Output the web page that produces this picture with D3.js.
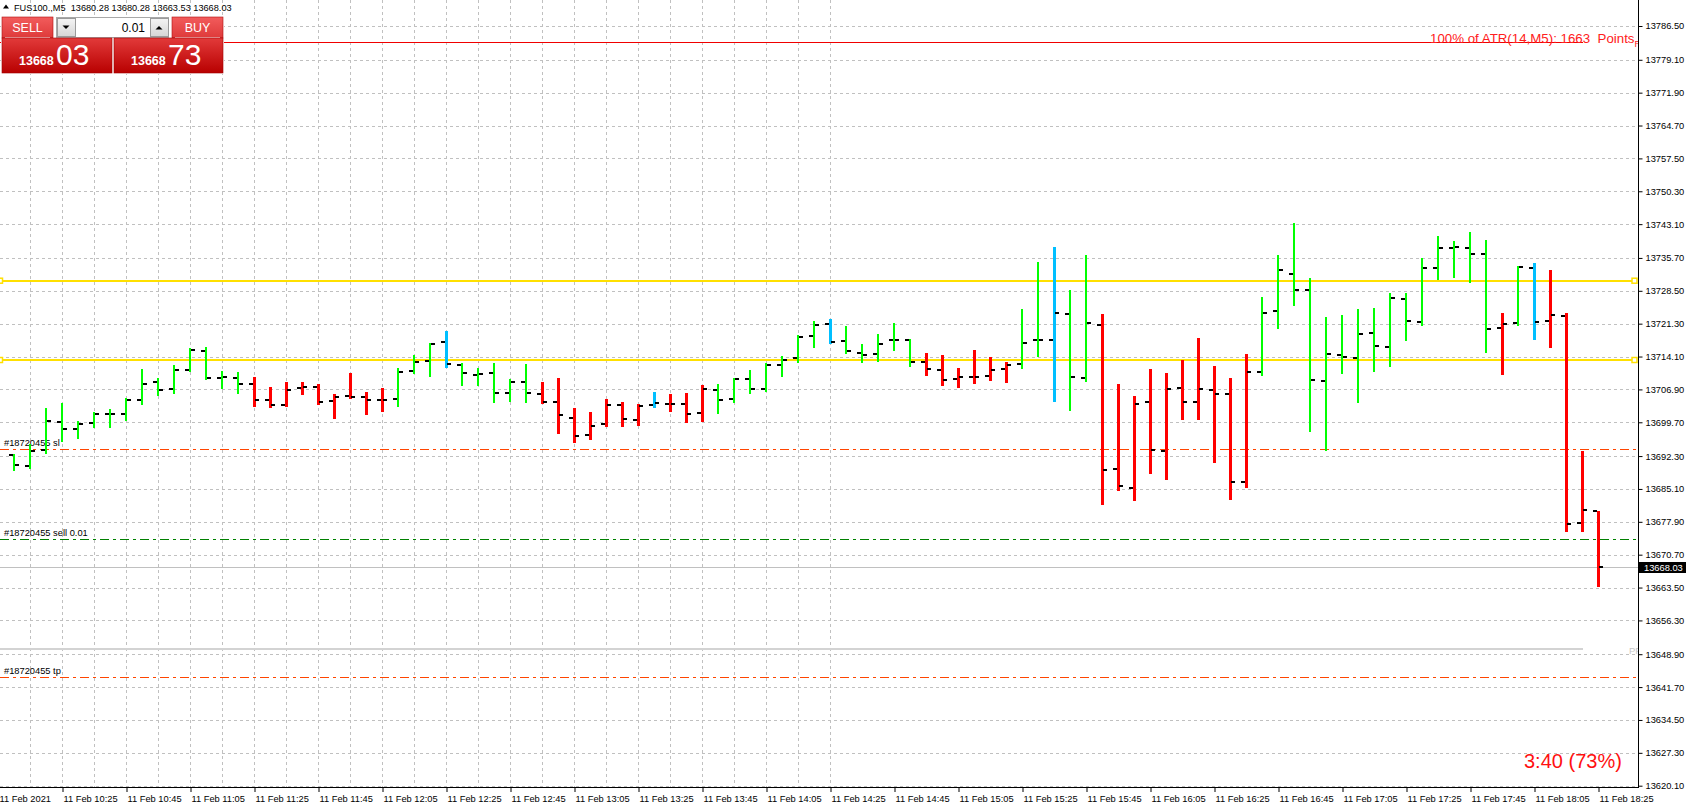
<!DOCTYPE html>
<html>
<head>
<meta charset="utf-8">
<script src="https://cdn.jsdelivr.net/npm/d3@7"></script>
<style>
  body { margin: 0; background: #fff; }
  text { font-family: "Liberation Sans", Arial, sans-serif; }
</style>
</head>
<body>
<svg id="chart" width="1691" height="805"></svg>
<script>
// FUS100.,M5  11 Feb 2021, bars from 10:10 to 18:25
var barOpen = [13692.63,13690.22,13693.65,13699.85,13698.32,13699.64,13701.53,13701.53,13704.53,13708.47,
  13707.01,13711.17,13715.40,13709.42,13709.49,13708.18,13704.53,13703.50,13707.23,13707.52,
  13704.38,13705.48,13705.33,13704.67,13704.89,13710.88,13713.22,13717.38,13712.27,13710.16,
  13710.60,13706.14,13708.62,13706.00,13704.17,13700.67,13697.02,13699.43,13703.59,13700.30,
  13703.59,13703.81,13703.81,13701.84,13706.87,13704.90,13709.28,13707.09,13712.35,13713.88,
  13718.70,13721.24,13717.52,13714.89,13714.67,13717.74,13717.74,13712.92,13711.17,13709.20,
  13709.64,13709.86,13711.39,13712.48,13717.74,13717.74,13723.43,13709.42,13721.02,13689.49,
  13685.33,13704.16,13693.43,13707.23,13704.16,13706.79,13705.91,13686.64,13710.73,13724.16,
  13732.27,13728.69,13708.76,13714.45,13713.80,13719.27,13716.21,13726.72,13721.68,13733.51,
  13737.89,13737.89,13736.65,13720.37,13721.46,13733.51,13721.90,13723.00,13677.66,13680.28];
var barHigh = [13692.77,13694.96,13702.92,13703.87,13700.00,13701.90,13702.63,13705.04,13711.39,13709.42,
  13712.26,13715.99,13716.21,13710.95,13710.73,13709.64,13707.45,13708.61,13708.61,13708.18,
  13705.91,13710.51,13706.35,13707.23,13711.61,13714.45,13717.09,13719.72,13712.71,13711.62,
  13712.71,13709.21,13712.49,13708.55,13709.43,13702.86,13701.98,13704.83,13704.17,13703.73,
  13706.36,13705.92,13706.14,13707.89,13708.11,13709.43,13711.18,13712.71,13714.25,13718.84,
  13721.91,13722.34,13720.81,13716.86,13719.05,13721.46,13717.96,13714.89,13714.45,13711.61,
  13715.55,13714.02,13712.92,13724.53,13734.82,13738.11,13728.69,13736.35,13723.43,13708.10,
  13705.48,13711.39,13710.51,13713.36,13718.18,13712.05,13709.42,13714.67,13727.16,13736.35,
  13743.36,13731.32,13722.78,13723.21,13724.53,13724.75,13728.03,13728.03,13735.77,13740.52,
  13739.42,13741.39,13739.64,13723.65,13733.95,13734.60,13733.07,13723.65,13693.43,13680.28];
var barLow = [13689.12,13689.42,13692.77,13695.47,13695.99,13698.54,13698.54,13700.07,13703.50,13705.48,
  13705.99,13710.80,13709.05,13706.94,13705.99,13703.07,13702.92,13703.14,13705.77,13703.58,
  13700.51,13704.89,13701.31,13702.04,13703.07,13710.37,13709.65,13711.69,13707.68,13707.68,
  13703.95,13704.17,13703.95,13703.73,13697.16,13695.19,13695.85,13698.70,13698.70,13698.92,
  13702.93,13701.98,13699.57,13699.79,13701.54,13703.95,13705.92,13706.36,13709.65,13712.71,
  13716.00,13716.94,13714.67,13712.70,13712.92,13715.33,13711.83,13709.86,13707.67,13707.23,
  13708.10,13708.76,13708.32,13711.39,13714.02,13704.16,13702.19,13708.54,13681.60,13684.67,
  13682.48,13688.39,13687.08,13700.22,13700.22,13690.80,13682.70,13685.40,13709.93,13720.15,
  13725.19,13697.59,13693.43,13710.29,13703.94,13710.73,13711.83,13717.52,13720.81,13730.88,
  13731.32,13730.22,13714.89,13710.07,13720.81,13717.67,13715.99,13675.69,13675.69,13663.53];
var barClose = [13690.44,13693.50,13700.07,13698.32,13699.27,13701.53,13701.53,13704.53,13708.18,13706.79,
  13711.17,13715.55,13709.42,13709.64,13708.18,13704.67,13703.50,13706.86,13707.37,13704.23,
  13705.33,13705.26,13704.67,13704.53,13710.66,13712.99,13716.95,13712.57,13710.60,13710.38,
  13706.14,13708.62,13706.14,13704.17,13701.32,13696.80,13698.99,13703.59,13700.52,13703.37,
  13704.03,13703.81,13701.62,13707.09,13704.68,13709.28,13707.09,13712.35,13713.44,13718.48,
  13721.11,13717.30,13715.33,13714.45,13716.86,13717.74,13712.92,13711.39,13708.98,13709.64,
  13709.64,13711.17,13712.26,13717.08,13717.74,13723.65,13709.64,13721.46,13689.27,13685.77,
  13703.72,13693.65,13707.01,13704.16,13707.01,13705.91,13686.64,13710.73,13723.65,13733.07,
  13728.69,13708.98,13714.67,13714.02,13719.05,13716.43,13726.94,13721.90,13733.51,13737.89,
  13738.18,13736.65,13720.15,13721.24,13733.73,13721.68,13723.21,13677.44,13680.51,13668.03];
// bar colour from the trend indicator: g = up, r = down, b = neutral
var barTrend = ("ggggggggggggggg" + "rrrrrrrrr" + "ggg" + "b" + "ggggg" + "rrrrrrr" + "b" + "rrr" +
  "ggggggg" + "b" + "ggggg" + "rrrrrr" + "gg" + "b" + "gg" + "rrrrrrrrrr" + "ggggggggggggggg" +
  "r" + "g" + "b" + "rrrr").split("");

var priceTicks = [13786.50,13779.10,13771.90,13764.70,13757.50,13750.30,13743.10,13735.70,13728.50,
  13721.30,13714.10,13706.90,13699.70,13692.30,13685.10,13677.90,13670.70,13663.50,13656.30,
  13648.90,13641.70,13634.50,13627.30,13620.10];
var timeLabels = ["11 Feb 2021","11 Feb 10:25","11 Feb 10:45","11 Feb 11:05","11 Feb 11:25","11 Feb 11:45",
  "11 Feb 12:05","11 Feb 12:25","11 Feb 12:45","11 Feb 13:05","11 Feb 13:25","11 Feb 13:45",
  "11 Feb 14:05","11 Feb 14:25","11 Feb 14:45","11 Feb 15:05","11 Feb 15:25","11 Feb 15:45",
  "11 Feb 16:05","11 Feb 16:25","11 Feb 16:45","11 Feb 17:05","11 Feb 17:25","11 Feb 17:45",
  "11 Feb 18:05","11 Feb 18:25"];

// chart objects
var yellowLevels = [13730.71, 13713.34];
var atrLevel = 13783.0;
var slLevel = 13693.92, sellLevel = 13674.14, tpLevel = 13643.97;
var pivotLevel = 13650.04;
var bidPrice = 13668.03, askPrice = 13668.73;

var width = 1691, height = 805,
    plotRight = 1638, plotBottom = 787;

var firstBar = new Date(2021, 1, 11, 10, 10);
var barTime = barOpen.map(function(d, i) { return d3.timeMinute.offset(firstBar, 5 * i); });

var x = d3.scaleTime()
    .domain([barTime[0], barTime[barTime.length - 1]])
    .range([14, 1598]);
var y = d3.scaleLinear()
    .domain([13620.10, 13786.50])
    .range([785.7, 26]);

var svg = d3.select("#chart");
var defs = svg.append("defs");
defs.append("clipPath").attr("id", "plot")
  .append("rect").attr("x", 0).attr("y", 0).attr("width", plotRight).attr("height", plotBottom);

var plot = svg.append("g").attr("clip-path", "url(#plot)");

// grid
var gridTimes = d3.range(0, 27).map(function(k) { return d3.timeMinute.offset(firstBar, -5 + 10 * k); });
plot.append("g").selectAll("line").data(gridTimes).enter().append("line")
    .attr("x1", function(d) { return Math.round(x(d)) + 0.5; })
    .attr("x2", function(d) { return Math.round(x(d)) + 0.5; })
    .attr("y1", 0).attr("y2", plotBottom)
    .attr("stroke", "#c0c0c0").attr("stroke-dasharray", "3,3");
plot.append("g").selectAll("line").data(priceTicks).enter().append("line")
    .attr("x1", 0).attr("x2", plotRight)
    .attr("y1", function(d) { return Math.round(y(d)) + 0.5; })
    .attr("y2", function(d) { return Math.round(y(d)) + 0.5; })
    .attr("stroke", "#c0c0c0").attr("stroke-dasharray", "3,3");

function hline(level, x2, color, w, dash) {
  var yy = Math.round(y(level)) + (w % 2 ? 0.5 : 0);
  var l = plot.append("line").attr("x1", 0).attr("x2", x2)
      .attr("y1", yy).attr("y2", yy)
      .attr("stroke", color).attr("stroke-width", w);
  if (dash) l.attr("stroke-dasharray", dash);
  return l;
}

// ATR level
hline(atrLevel, 1583, "#f00000", 1);
plot.append("text").attr("x", 1430).attr("y", y(atrLevel) + 0.8)
    .attr("font-size", 13.3).attr("fill", "#ff2020")
    .text("100% of ATR(14,M5): 1663\u00a0\u00a0Points")
  .append("tspan").attr("font-size", 9).attr("dy", 4).text("R");

// pivot, bid and order lines
hline(pivotLevel, 1583, "#d3d3d3", 2);
plot.append("text").attr("x", 1629).attr("y", y(pivotLevel) + 5)
    .attr("font-size", 9.5).attr("fill", "#c8c8c8").text("PP");
hline(bidPrice, plotRight, "#c0c0c0", 1);
hline(slLevel, plotRight, "#ff4500", 1, "9,4,3,4");
hline(sellLevel, plotRight, "#008000", 1, "9,4,3,4");
hline(tpLevel, plotRight, "#ff4500", 1, "9,4,3,4");

var orderLabels = [[slLevel, "#18720455 sl"], [sellLevel, "#18720455 sell 0.01"], [tpLevel, "#18720455 tp"]];
plot.append("g").selectAll("text").data(orderLabels).enter().append("text")
    .attr("x", 4).attr("y", function(d) { return y(d[0]) - 2.5; })
    .attr("font-size", 9.3).attr("fill", "#000")
    .text(function(d) { return d[1]; });

// yellow trend lines with anchors
yellowLevels.forEach(function(lv) {
  hline(lv, 1634.5, "#ffe000", 2);
  [0, 1634.5].forEach(function(ax) {
    plot.append("rect").attr("x", ax - 2.5).attr("y", y(lv) - 2.5)
        .attr("width", 5).attr("height", 5)
        .attr("fill", "#fff").attr("stroke", "#ffe000").attr("stroke-width", 1.5);
  });
});

// OHLC bars
var trendColor = { g: "#00ff00", r: "#ff0000", b: "#00bfff" };
var trendWidth = { g: 2, r: 3, b: 3 };
var bars = plot.append("g").attr("shape-rendering", "crispEdges")
  .selectAll("g").data(barOpen).enter().append("g");
bars.append("line")
    .attr("x1", function(d, i) { return Math.round(x(barTime[i])) + (trendWidth[barTrend[i]] % 2 ? 0.5 : 0); })
    .attr("x2", function(d, i) { return Math.round(x(barTime[i])) + (trendWidth[barTrend[i]] % 2 ? 0.5 : 0); })
    .attr("y1", function(d, i) { return y(barHigh[i]); })
    .attr("y2", function(d, i) { return y(barLow[i]); })
    .attr("stroke", function(d, i) { return trendColor[barTrend[i]]; })
    .attr("stroke-width", function(d, i) { return trendWidth[barTrend[i]]; });
bars.append("line")
    .attr("x1", function(d, i) { return Math.round(x(barTime[i])) - 5; })
    .attr("x2", function(d, i) { return Math.round(x(barTime[i])) - 1; })
    .attr("y1", function(d, i) { return Math.round(y(barOpen[i])); })
    .attr("y2", function(d, i) { return Math.round(y(barOpen[i])); })
    .attr("stroke", "#000").attr("stroke-width", 2);
bars.append("line")
    .attr("x1", function(d, i) { return Math.round(x(barTime[i])) + 1; })
    .attr("x2", function(d, i) { return Math.round(x(barTime[i])) + 5; })
    .attr("y1", function(d, i) { return Math.round(y(barClose[i])); })
    .attr("y2", function(d, i) { return Math.round(y(barClose[i])); })
    .attr("stroke", "#000").attr("stroke-width", 2);

// countdown
plot.append("text").attr("x", 1524).attr("y", 768)
    .attr("font-size", 20).attr("fill", "#ff1010").text("3:40 (73%)");

// axes
var tickTimes = timeLabels.map(function(d, k) { return d3.timeMinute.offset(firstBar, -5 + 20 * k); });
var xAxis = d3.axisBottom(x).tickValues(tickTimes).tickSize(5)
    .tickFormat(function(d, k) { return timeLabels[k]; });
var gx = svg.append("g").attr("transform", "translate(0," + plotBottom + ")").call(xAxis);
gx.select(".domain").remove();
gx.selectAll("text").attr("text-anchor", "start").attr("x", 1)
    .attr("font-size", 9.3).attr("font-family", "Liberation Sans, Arial, sans-serif");
gx.selectAll(".tick line").attr("transform", "translate(0.5,0)");

var yAxis = d3.axisRight(y).tickValues(priceTicks).tickSize(4).tickPadding(3)
    .tickFormat(d3.format(".2f"));
var gy = svg.append("g").attr("transform", "translate(" + (plotRight + 0.5) + ",0)").call(yAxis);
gy.select(".domain").remove();
gy.selectAll("text").attr("font-size", 9.3).attr("font-family", "Liberation Sans, Arial, sans-serif");

svg.append("line").attr("x1", 0).attr("x2", plotRight + 1)
    .attr("y1", plotBottom + 0.5).attr("y2", plotBottom + 0.5).attr("stroke", "#000");
svg.append("line").attr("x1", plotRight + 0.5).attr("x2", plotRight + 0.5)
    .attr("y1", 0).attr("y2", plotBottom + 1).attr("stroke", "#000");

// bid label on price axis
svg.append("rect").attr("x", 1639).attr("y", Math.round(y(bidPrice)) - 5)
    .attr("width", 47).attr("height", 11).attr("fill", "#000");
svg.append("text").attr("x", 1644).attr("y", Math.round(y(bidPrice)) + 3.5)
    .attr("font-size", 9.3).attr("fill", "#fff").text(d3.format(".2f")(bidPrice));

// header line
svg.append("path").attr("d", "M3,8.5L6,4.5L9,8.5Z").attr("fill", "#000");
svg.append("text").attr("x", 14).attr("y", 10.5).attr("font-size", 9.2)
    .text("FUS100.,M5\u00a0\u00a0" + [barOpen[99], barHigh[99], barLow[99], barClose[99]].map(d3.format(".2f")).join(" "));

// one-click trading panel
var gTop = defs.append("linearGradient").attr("id", "btnTop").attr("x1", 0).attr("x2", 0).attr("y1", 0).attr("y2", 1);
gTop.append("stop").attr("offset", "0%").attr("stop-color", "#f25c5c");
gTop.append("stop").attr("offset", "100%").attr("stop-color", "#de3a3a");
var gBig = defs.append("linearGradient").attr("id", "btnBig").attr("x1", 0).attr("x2", 0).attr("y1", 0).attr("y2", 1);
gBig.append("stop").attr("offset", "0%").attr("stop-color", "#e23a3a");
gBig.append("stop").attr("offset", "100%").attr("stop-color", "#b80000");
var gGray = defs.append("linearGradient").attr("id", "btnGray").attr("x1", 0).attr("x2", 0).attr("y1", 0).attr("y2", 1);
gGray.append("stop").attr("offset", "0%").attr("stop-color", "#f4f4f4");
gGray.append("stop").attr("offset", "100%").attr("stop-color", "#d6d6d6");

var panel = svg.append("g");
panel.append("rect").attr("x", 1).attr("y", 16).attr("width", 223).attr("height", 58).attr("fill", "#fff");
[[2, "SELL"], [172, "BUY"]].forEach(function(b) {
  panel.append("rect").attr("x", b[0]).attr("y", 17).attr("width", 51).attr("height", 21)
      .attr("fill", "url(#btnTop)").attr("stroke", "#b01010").attr("stroke-width", 0.6);
  panel.append("line").attr("x1", b[0] + 3).attr("x2", b[0] + 48).attr("y1", 37.5).attr("y2", 37.5)
      .attr("stroke", "#f6c0c0");
  panel.append("text").attr("x", b[0] + 25.5).attr("y", 32).attr("text-anchor", "middle")
      .attr("font-size", 12.5).attr("fill", "#fff").text(b[1]);
});
panel.append("rect").attr("x", 56.5).attr("y", 17.5).attr("width", 112).attr("height", 20)
    .attr("fill", "#fff").attr("stroke", "#a8a8a8");
[[57, "M62,25L70,25L66,29Z"], [150, "M145,29L153,29L149,25Z"]].forEach(function(b, k) {
  panel.append("rect").attr("x", b[0] + 0.5).attr("y", 18.5).attr("width", 18).attr("height", 18)
      .attr("fill", "url(#btnGray)").attr("stroke", "#9a9a9a");
  panel.append("path").attr("d", k === 0 ? "M62.5,25.5L69.5,25.5L66,29Z" : "M155.5,29.5L162.5,29.5L159,26Z")
      .attr("fill", "#000");
});
panel.append("text").attr("x", 145).attr("y", 31.5).attr("text-anchor", "end")
    .attr("font-size", 12).attr("fill", "#000").text("0.01");

var quotes = [[2, 110, bidPrice], [114, 109, askPrice]];
quotes.forEach(function(q) {
  var s = d3.format(".2f")(q[2]).replace(".", "");
  panel.append("rect").attr("x", q[0]).attr("y", 38).attr("width", q[1]).attr("height", 35)
      .attr("fill", "url(#btnBig)").attr("stroke", "#a00000").attr("stroke-width", 0.6);
  panel.append("text").attr("x", q[0] + 17).attr("y", 65).attr("font-size", 12.5).attr("font-weight", "bold")
      .attr("fill", "#fff").text(s.slice(0, 5));
  panel.append("text").attr("x", q[0] + 54).attr("y", 65).attr("font-size", 30)
      .attr("fill", "#fff").text(s.slice(5));
});
</script>
</body>
</html>
